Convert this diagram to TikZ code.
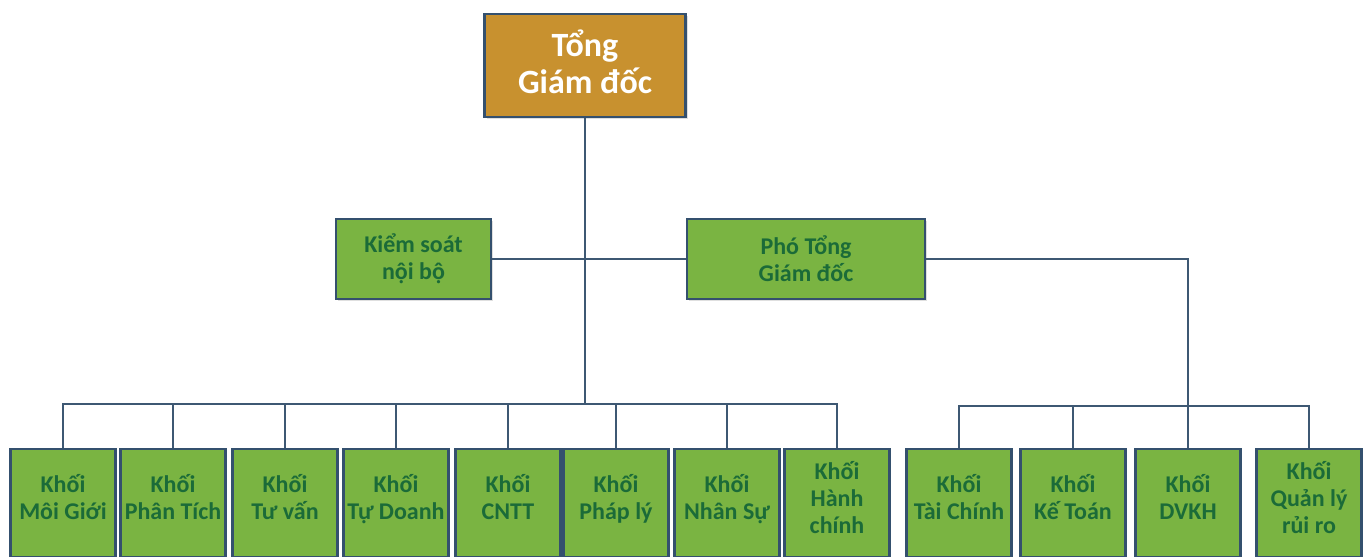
\documentclass[tikz,border=0pt]{standalone}
\usepackage{fontspec}
\setmainfont{Carlito}
\usepackage{tikz}
\usetikzlibrary{shadows}

\definecolor{boxedge}{HTML}{34506E}
\definecolor{linkline}{HTML}{3E5873}
\definecolor{gold}{HTML}{C8912F}
\definecolor{leaf}{HTML}{7AB442}
\definecolor{leaftext}{HTML}{1B6B38}

\begin{document}
\begin{tikzpicture}[
  x=0.5pt, y=-0.5pt,
  chief/.style={
    draw=boxedge,
    line width=1.3pt,
    fill=gold,
    text=white,
    minimum width=100.5pt,
    minimum height=51.5pt,
    inner sep=0pt,
    text depth=4pt,
    align=center,
    drop shadow={opacity=0.25, shadow xshift=1.2pt, shadow yshift=-1.2pt},
    font=\bfseries\fontsize{17}{18.5}\selectfont
  },
  deputy/.style={
    draw=boxedge,
    line width=1.3pt,
    fill=leaf,
    text=leaftext,
    minimum height=40pt,
    inner sep=0pt,
    align=center,
    drop shadow={opacity=0.25, shadow xshift=1.2pt, shadow yshift=-1.2pt},
    font=\bfseries\fontsize{12}{13.5}\selectfont
  },
  unit/.style={
    draw=boxedge,
    line width=1.3pt,
    fill=leaf,
    text=leaftext,
    minimum width=52.5pt,
    minimum height=54pt,
    inner sep=0pt,
    text depth=6pt,
    align=center,
    font=\bfseries\fontsize{12}{13.5}\selectfont
  },
  link/.style={draw=linkline, line width=0.9pt}
]
  \useasboundingbox (0,0) rectangle (1363,556);

  \node[chief] (tgd) at (585,65.5) {Tổng\\Giám đốc};
  \node[deputy, minimum width=77.5pt] (ksnb) at (413.5,259) {Kiểm soát\\nội bộ};
  \node[deputy, minimum width=119pt] (ptgd) at (806,259) {Phó Tổng\\Giám đốc};

  % khoi truc thuoc Tong Giam doc
  \node[unit] (k1) at (63,503) {Khối\\Môi Giới};
  \node[unit] (k2) at (173,503) {Khối\\Phân Tích};
  \node[unit] (k3) at (285,503) {Khối\\Tư vấn};
  \node[unit] (k4) at (396,503) {Khối\\Tự Doanh};
  \node[unit] (k5) at (508,503) {Khối\\CNTT};
  \node[unit] (k6) at (616,503) {Khối\\Pháp lý};
  \node[unit] (k7) at (727,503) {Khối\\Nhân Sự};
  \node[unit] (k8) at (837,503) {Khối\\Hành\\chính};

  % khoi truc thuoc Pho Tong Giam doc
  \node[unit] (k9) at (959,503) {Khối\\Tài Chính};
  \node[unit] (k10) at (1073,503) {Khối\\Kế Toán};
  \node[unit] (k11) at (1188,503) {Khối\\DVKH};
  \node[unit] (k12) at (1309,503) {Khối\\Quản lý\\rủi ro};

  \coordinate (busL) at (585,404);
  \coordinate (busR) at (1188,406);

  \draw[link] (tgd.south) -- (busL);
  \draw[link] (ksnb.east) -- (ksnb.east -| tgd.south);
  \draw[link] (ptgd.west) -- (ptgd.west -| tgd.south);
  \draw[link] (k1.north) |- (busL) -| (k8.north);
  \foreach \n in {k2,k3,k4,k5,k6,k7}
    \draw[link] (\n.north) -- (\n.north |- busL);

  \draw[link] (ptgd.east) -| (k11.north);
  \draw[link] (k9.north) |- (busR) -| (k12.north);
  \draw[link] (k10.north) -- (k10.north |- busR);
\end{tikzpicture}
\end{document}
